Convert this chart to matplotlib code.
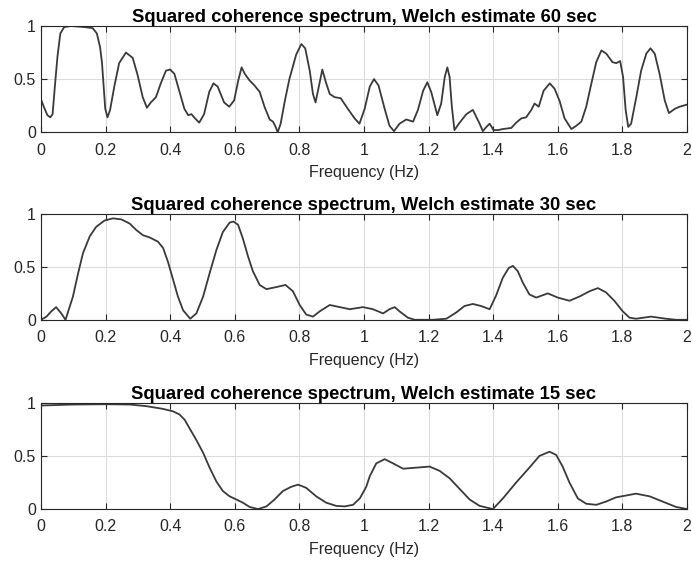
import numpy as np
import matplotlib
matplotlib.use('Agg')
import matplotlib.pyplot as plt

plt.rcParams['font.family'] = ['Liberation Sans', 'DejaVu Sans']

# Welch 60 sec estimate
f60 = [0.0, 0.010, 0.020, 0.029, 0.036, 0.043, 0.051, 0.060, 0.072, 0.093, 0.134, 0.16, 0.173,
       0.183, 0.189, 0.194, 0.199, 0.206, 0.214, 0.227, 0.242, 0.263, 0.284, 0.299, 0.315, 0.328,
       0.34, 0.356, 0.371, 0.387, 0.40, 0.413, 0.428, 0.444, 0.456, 0.466, 0.474, 0.49, 0.505,
       0.521, 0.534, 0.547, 0.567, 0.583, 0.598, 0.611, 0.621, 0.631, 0.645, 0.661, 0.677,
       0.692, 0.708, 0.718, 0.725, 0.733, 0.742, 0.754, 0.769, 0.79, 0.806, 0.818, 0.832, 0.842,
       0.85, 0.86, 0.871, 0.882, 0.894, 0.909, 0.928, 0.95, 0.971, 0.986, 1.002, 1.018, 1.031,
       1.045, 1.064, 1.079, 1.093, 1.11, 1.131, 1.152, 1.167, 1.183, 1.196, 1.208, 1.227, 1.239,
       1.25, 1.258, 1.265, 1.272, 1.280, 1.296, 1.317, 1.337, 1.358, 1.368, 1.379, 1.389, 1.401,
       1.415, 1.43, 1.456, 1.471, 1.487, 1.502, 1.518, 1.528, 1.541, 1.556, 1.575, 1.59, 1.606,
       1.621, 1.642, 1.657, 1.673, 1.688, 1.704, 1.719, 1.735, 1.75, 1.769, 1.781, 1.793, 1.802,
       1.81, 1.818, 1.827, 1.843, 1.858, 1.874, 1.887, 1.9, 1.915, 1.931, 1.944, 1.962, 1.977,
       2.0]
c60 = [0.31, 0.23, 0.16, 0.14, 0.17, 0.43, 0.71, 0.93, 0.99, 1.0, 0.99, 0.98, 0.93,
       0.80, 0.65, 0.43, 0.22, 0.14, 0.21, 0.43, 0.65, 0.75, 0.70, 0.54, 0.33, 0.23,
       0.28, 0.33, 0.46, 0.58, 0.59, 0.55, 0.39, 0.22, 0.16, 0.17, 0.14, 0.09, 0.17,
       0.38, 0.46, 0.43, 0.28, 0.24, 0.30, 0.49, 0.61, 0.55, 0.49, 0.44, 0.38,
       0.24, 0.12, 0.10, 0.06, 0.0, 0.08, 0.28, 0.50, 0.73, 0.83, 0.79, 0.58, 0.36,
       0.28, 0.43, 0.59, 0.47, 0.36, 0.33, 0.32, 0.22, 0.13, 0.08, 0.22, 0.43, 0.50,
       0.44, 0.22, 0.06, 0.01, 0.08, 0.12, 0.10, 0.21, 0.39, 0.47, 0.38, 0.16, 0.27,
       0.52, 0.61, 0.52, 0.24, 0.02, 0.09, 0.17, 0.21, 0.08, 0.01, 0.05, 0.08, 0.02,
       0.02, 0.03, 0.04, 0.09, 0.13, 0.14, 0.21, 0.27, 0.24, 0.39, 0.46, 0.41, 0.29,
       0.13, 0.03, 0.06, 0.10, 0.24, 0.46, 0.66, 0.77, 0.74, 0.66, 0.65, 0.67, 0.52,
       0.21, 0.05, 0.08, 0.33, 0.58, 0.74, 0.79, 0.74, 0.55, 0.30, 0.18, 0.22, 0.24,
       0.26]

# Welch 30 sec estimate
f30 = [0.0, 0.017, 0.032, 0.047, 0.063, 0.076, 0.099, 0.115, 0.13, 0.151, 0.171, 0.197, 0.223,
       0.249, 0.275, 0.295, 0.316, 0.336, 0.362, 0.378, 0.393, 0.409, 0.424, 0.44, 0.462, 0.481,
       0.502, 0.522, 0.543, 0.563, 0.584, 0.596, 0.61, 0.625, 0.641, 0.656, 0.677, 0.698, 0.729,
       0.757, 0.78, 0.801, 0.821, 0.842, 0.863, 0.894, 0.925, 0.956, 0.997, 1.028, 1.059, 1.079,
       1.095, 1.11, 1.136, 1.157, 1.213, 1.255, 1.286, 1.311, 1.337, 1.363, 1.389, 1.409, 1.43,
       1.448, 1.461, 1.476, 1.492, 1.512, 1.533, 1.569, 1.6, 1.636, 1.667, 1.698, 1.724, 1.749,
       1.775, 1.801, 1.822, 1.842, 1.889, 1.935, 1.966, 2.0]
c30 = [0.0, 0.03, 0.08, 0.12, 0.06, 0.0, 0.22, 0.44, 0.63, 0.79, 0.88, 0.94, 0.96,
       0.95, 0.91, 0.85, 0.80, 0.78, 0.74, 0.68, 0.55, 0.38, 0.22, 0.09, 0.01, 0.06,
       0.22, 0.44, 0.66, 0.83, 0.92, 0.93, 0.90, 0.77, 0.60, 0.46, 0.33, 0.29, 0.31,
       0.33, 0.27, 0.14, 0.05, 0.03, 0.08, 0.14, 0.12, 0.10, 0.12, 0.10, 0.06, 0.10,
       0.12, 0.08, 0.02, 0.0, 0.0, 0.01, 0.07, 0.13, 0.15, 0.13, 0.10, 0.23, 0.40,
       0.49, 0.51, 0.46, 0.35, 0.24, 0.21, 0.25, 0.21, 0.18, 0.22, 0.27, 0.30, 0.26,
       0.18, 0.08, 0.02, 0.01, 0.03, 0.01, 0.0, 0.0]

# Welch 15 sec estimate
f15 = [0.0, 0.099, 0.202, 0.275, 0.326, 0.378, 0.409, 0.429, 0.445, 0.46, 0.481, 0.502, 0.522,
       0.543, 0.563, 0.584, 0.605, 0.625, 0.646, 0.672, 0.698, 0.723, 0.749, 0.775, 0.796,
       0.821, 0.852, 0.883, 0.914, 0.94, 0.966, 0.987, 1.007, 1.018, 1.038, 1.064, 1.09,
       1.121, 1.162, 1.203, 1.234, 1.265, 1.296, 1.327, 1.358, 1.399, 1.43, 1.471, 1.512,
       1.543, 1.574, 1.595, 1.615, 1.636, 1.662, 1.688, 1.719, 1.749, 1.78, 1.842, 1.884,
       1.925, 1.966, 2.0]
c15 = [0.975, 0.984, 0.987, 0.984, 0.969, 0.943, 0.92, 0.89, 0.84, 0.76, 0.65, 0.53, 0.39,
       0.26, 0.17, 0.12, 0.09, 0.06, 0.02, 0.0, 0.025, 0.09, 0.17, 0.21, 0.23,
       0.20, 0.12, 0.06, 0.03, 0.025, 0.04, 0.10, 0.21, 0.31, 0.43, 0.47, 0.43,
       0.38, 0.39, 0.40, 0.36, 0.29, 0.19, 0.09, 0.03, 0.0, 0.10, 0.25, 0.39,
       0.50, 0.54, 0.51, 0.40, 0.25, 0.10, 0.05, 0.04, 0.07, 0.11, 0.145, 0.12,
       0.07, 0.02, 0.0]

series = [(f60, c60, '60'), (f30, c30, '30'), (f15, c15, '15')]
xticks = [0, 0.2, 0.4, 0.6, 0.8, 1, 1.2, 1.4, 1.6, 1.8, 2]
xlabels = ['0', '0.2', '0.4', '0.6', '0.8', '1', '1.2', '1.4', '1.6', '1.8', '2']

fig = plt.figure(figsize=(6.92, 5.65), dpi=100)
boxes = [(0.0592, 0.766, 0.9336, 0.188),
         (0.0592, 0.434, 0.9336, 0.187),
         (0.0592, 0.099, 0.9336, 0.188)]

for (f, c, sec), box in zip(series, boxes):
    ax = fig.add_axes(box)
    ax.plot(f, c, color='#3a3a3a', lw=1.3, solid_joinstyle='round')
    ax.set_xlim(0, 2)
    ax.set_ylim(0, 1)
    ax.set_xticks(xticks)
    ax.set_xticklabels(xlabels)
    ax.set_yticks([0, 0.5, 1])
    ax.set_yticklabels(['0', '0.5', '1'])
    ax.grid(True, color='#dcdcdc', lw=0.8)
    ax.set_axisbelow(True)
    ax.tick_params(direction='in', top=True, right=True, labelsize=11.5,
                   colors='#262626', length=4, width=0.8)
    ax.tick_params(axis='x', pad=7.5)
    for s in ax.spines.values():
        s.set_color('#262626')
        s.set_linewidth(0.8)
    ax.set_xlabel('Frequency (Hz)', fontsize=11.5, color='#262626', labelpad=5.5)
    ax.set_title('Squared coherence spectrum, Welch estimate ' + sec + ' sec',
                 fontsize=13.3, fontweight='bold', pad=3)

fig.savefig('out.png', dpi=100)
